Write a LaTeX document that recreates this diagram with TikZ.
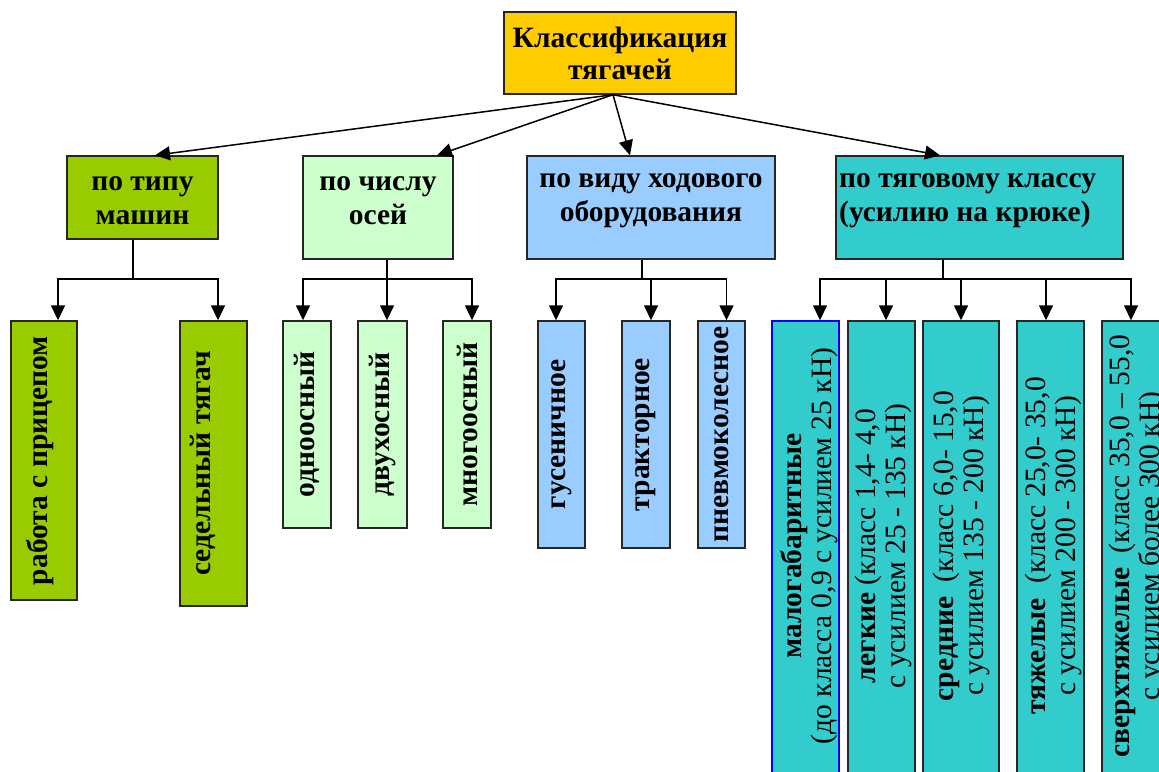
\documentclass[tikz,border=0pt]{standalone}
\usepackage{fontspec}
\setmainfont{Liberation Serif}
\usetikzlibrary{arrows.meta}
\definecolor{cgold}{HTML}{FFCC00}
\definecolor{cgreen}{HTML}{99CC00}
\definecolor{clgreen}{HTML}{CCFFCC}
\definecolor{cblue}{HTML}{99CCFF}
\definecolor{cteal}{HTML}{33CCCC}
\begin{document}
\begin{tikzpicture}[x=1pt,y=-1pt,
 box/.style={draw=black!85, line width=1.4pt, inner sep=0pt},
 hd/.style={font=\fontsize{29.5}{34}\selectfont\bfseries, align=center, inner sep=0pt},
 vt/.style={font=\fontsize{29.5}{30}\selectfont\bfseries, rotate=90, inner sep=0pt},
 cls/.style={font=\fontsize{29.5}{30}\selectfont, rotate=90, align=center, inner sep=0pt},
 con/.style={line width=1.5pt, -{Triangle[length=15pt,width=14pt]}},
 ln/.style={line width=1.5pt}]
\clip (0,0) rectangle (1159,771);
\fill[white] (0,0) rectangle (1159,771);

% top
\node[box, fill=cgold, minimum width=232pt, minimum height=82pt, font=\fontsize{29.5}{32}\selectfont\bfseries, align=center] (top) at (620,53) {Классификация\\тягачей};

% level 2
\node[box, fill=cgreen, minimum width=151pt, minimum height=83pt] (b1) at (142.5,197.5) {};
\node[hd] (b1t) at (142.5,201) {по типу\\машин};
\node[box, fill=clgreen, minimum width=150pt, minimum height=103pt] (b2) at (378,207.5) {};
\node[hd] (b2t) at (378,201) {по числу\\осей};
\node[box, fill=cblue, minimum width=248pt, minimum height=103pt] (b3) at (651,207.5) {};
\node[hd] (b3t) at (651,201) {по виду ходового\\оборудования};
\node[box, fill=cteal, minimum width=287pt, minimum height=103pt] (b4) at (979.5,207.5) {};
\node[hd, align=left, anchor=west] (b4t) at (839,201) {по тяговому классу\\(усилию на крюке)};

% level 3
\node[box, fill=cgreen, minimum width=66pt, minimum height=279pt] (c11) at (44,460.5) {};
\node[vt] (c11t) at ([xshift=-4pt]c11) {работа с прицепом};
\node[box, fill=cgreen, minimum width=67pt, minimum height=285pt] (c12) at (213.5,463.5) {};
\node[vt] (c12t) at ([xshift=-11pt]c12) {седельный тягач};

\node[box, fill=clgreen, minimum width=48pt, minimum height=207pt] (c21) at (307,424.5) {};
\node[vt] (c21t) at (c21) {одноосный};
\node[box, fill=clgreen, minimum width=49pt, minimum height=207pt] (c22) at (382.5,424.5) {};
\node[vt] (c22t) at (c22) {двухосный};
\node[box, fill=clgreen, minimum width=48pt, minimum height=207pt] (c23) at (467,424.5) {};
\node[vt] (c23t) at (c23) {многоосный};

\node[box, fill=cblue, minimum width=47pt, minimum height=227pt] (c31) at (561.5,434.5) {};
\node[vt] (c31t) at (c31) {гусеничное};
\node[box, fill=cblue, minimum width=48pt, minimum height=227pt] (c32) at (646,434.5) {};
\node[vt] (c32t) at (c32) {тракторное};
\node[box, fill=cblue, minimum width=47pt, minimum height=227pt] (c33) at (721.5,434.5) {};
\node[vt] (c33t) at (c33) {пневмоколесное};

\node[box, draw=blue, fill=cteal, minimum width=67pt, minimum height=453pt] (c41) at (805.5,547.5) {};
\node[cls] (c41t) at ([xshift=4pt,yshift=1.5pt]c41) {\textbf{малогабаритные}\\(до класса 0,9 с усилием 25 кН)};
\node[box, fill=cteal, minimum width=67pt, minimum height=453pt] (c42) at (881.5,547.5) {};
\node[cls] (c42t) at ([xshift=1.5pt,yshift=1.5pt]c42) {\textbf{легкие} (класс 1,4- 4,0\\с усилием 25 - 135 кН)};
\node[box, fill=cteal, minimum width=76pt, minimum height=453pt] (c43) at (961,547.5) {};
\node[cls] (c43t) at ([yshift=1.5pt]c43) {\textbf{средние}\ \ (класс 6,0- 15,0\\с усилием 135 - 200 кН)};
\node[box, fill=cteal, minimum width=67pt, minimum height=453pt] (c44) at (1050.5,547.5) {};
\node[cls] (c44t) at ([xshift=2.5pt,yshift=1.5pt]c44) {\textbf{тяжелые}\ \ (класс 25,0- 35,0\\с усилием 200 - 300 кН)};
\node[box, fill=cteal, minimum width=67pt, minimum height=453pt] (c45) at (1135.5,547.5) {};
\node[cls] (c45t) at ([xshift=1.5pt,yshift=1.5pt]c45) {\textbf{сверхтяжелые}\ \ (класс 35,0 – 55,0\\с усилием более 300 кН)};

% connectors from top
\draw[con] ([xshift=-7pt]top.south) -- ([xshift=12.5pt]b1.north);
\draw[con] ([xshift=-7pt]top.south) -- ([xshift=59pt]b2.north);
\draw[con] ([xshift=-7pt]top.south) -- ([xshift=-21pt]b3.north);
\draw[con] ([xshift=-7pt]top.south) -- ([xshift=-39.5pt]b4.north);

% buses
\coordinate (h1) at (133,279);
\coordinate (h2) at (387,279);
\coordinate (h3) at (642,279);
\coordinate (h4) at (943,279);
\draw[ln] ([xshift=-9.5pt]b1.south) -- (h1);
\draw[ln] ([xshift=9pt]b2.south) -- (h2);
\draw[ln] ([xshift=-9pt]b3.south) -- (h3);
\draw[ln] ([xshift=-36.5pt]b4.south) -- (h4);

\draw[con] (h1) -| ([xshift=14pt]c11.north);
\draw[con] (h1) -| ([xshift=4.5pt]c12.north);
\draw[con] (h2) -| ([xshift=-4pt]c21.north);
\draw[con] (h2) -| ([xshift=4.5pt]c22.north);
\draw[con] (h2) -| ([xshift=5pt]c23.north);
\draw[con] (h3) -| ([xshift=-5.5pt]c31.north);
\draw[con] (h3) -| ([xshift=5pt]c32.north);
\draw[con] (h3) -| ([xshift=5pt]c33.north);
\draw[con] (h4) -| ([xshift=14.5pt]c41.north);
\draw[con] (h4) -| ([xshift=4.5pt]c42.north);
\draw[con] (h4) -| (c43.north);
\draw[con] (h4) -| ([xshift=-4.5pt]c44.north);
\draw[con] (h4) -| ([xshift=-4.5pt]c45.north);
\end{tikzpicture}
\end{document}
